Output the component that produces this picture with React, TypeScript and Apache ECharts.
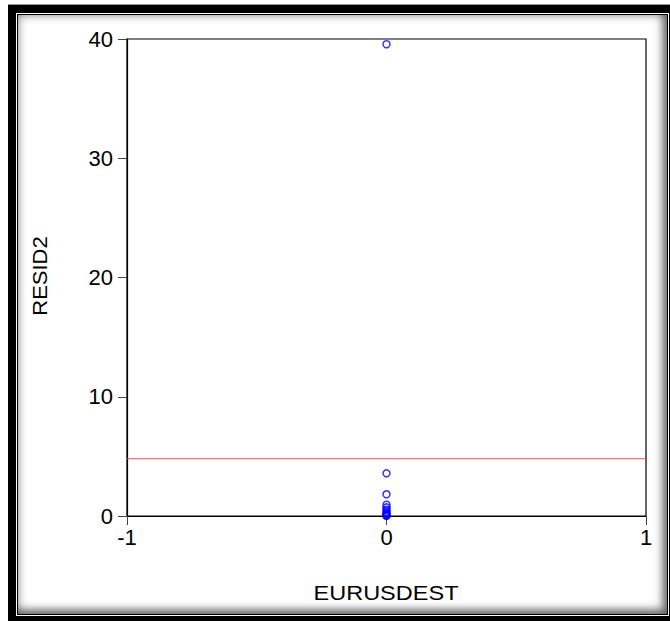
import React, { useEffect, useRef } from "react";
import * as echarts from "echarts";

const xTicks = [-1, 0, 1];
const yTicks = [0, 10, 20, 30, 40];
const pointX = [0, 0, 0, 0, 0, 0, 0, 0, 0, 0, 0, 0];
const pointY = [39.56, 3.58, 1.82, 0.95, 0.72, 0.52, 0.36, 0.25, 0.15, 0.08, 0.04, 0.02];
const refLineX = [-1, 1];
const refLineY = [4.8, 4.8];
const xName = "EURUSDEST";
const yName = "RESID2";

const FONT = "'Liberation Sans', Arial, sans-serif";

export default function App() {
  const ref = useRef<HTMLDivElement>(null);

  useEffect(() => {
    if (!ref.current) return;
    const chart = echarts.init(ref.current, undefined, { renderer: "svg" });
    const scatterData = pointX.map((x, i) => [x, pointY[i]]);
    const lineData = refLineX.map((x, i) => [x, refLineY[i]]);
    chart.setOption({
      animation: false,
      backgroundColor: "transparent",
      grid: {
        left: 127,
        top: 39,
        right: 24,
        bottom: 105,
        show: true,
        borderColor: "#000",
        borderWidth: 1.2,
        backgroundColor: "transparent",
      },
      xAxis: {
        type: "value",
        min: xTicks[0],
        max: xTicks[xTicks.length - 1],
        interval: 1,
        splitLine: { show: false },
        axisLine: { show: true, onZero: false, lineStyle: { color: "#000", width: 1.2 } },
        axisTick: { show: true, inside: false, length: 9, lineStyle: { color: "#444", width: 1 } },
        axisLabel: { color: "#000", fontSize: 22, fontFamily: FONT, margin: 10 },
      },
      yAxis: {
        type: "value",
        min: yTicks[0],
        max: yTicks[yTicks.length - 1],
        interval: 10,
        splitLine: { show: false },
        axisLine: { show: true, onZero: false, lineStyle: { color: "#000", width: 1.2 } },
        axisTick: { show: true, inside: false, length: 9, lineStyle: { color: "#444", width: 1 } },
        axisLabel: { color: "#000", fontSize: 22, fontFamily: FONT, margin: 14 },
      },
      graphic: [
        {
          type: "text",
          x: 40,
          y: 276,
          rotation: Math.PI / 2,
          scaleX: 1.1,
          style: {
            text: yName,
            fontSize: 20,
            fontFamily: FONT,
            fill: "#000",
            align: "center",
            verticalAlign: "middle",
          },
        },
        {
          type: "text",
          x: 386,
          y: 593,
          scaleX: 1.12,
          style: {
            text: xName,
            fontSize: 21,
            fontFamily: FONT,
            fill: "#000",
            align: "center",
            verticalAlign: "middle",
          },
        },
      ],
      series: [
        {
          type: "line",
          data: lineData,
          symbol: "none",
          lineStyle: { color: "#f05050", width: 1 },
          z: 2,
        },
        {
          type: "scatter",
          data: scatterData,
          symbol: "circle",
          symbolSize: 7,
          itemStyle: { color: "rgba(0,0,0,0)", borderColor: "#0000ff", borderWidth: 1.5 },
          z: 3,
        },
      ],
    });
    return () => chart.dispose();
  }, []);

  return (
    <div style={{ position: "fixed", left: 0, top: 0, width: 670, height: 621, overflow: "hidden", background: "#fff" }}>
      <div style={{ position: "absolute", left: 8, top: 4, width: 700, height: 1, background: "#999" }} />
      <div style={{ position: "absolute", left: 8, top: 5, width: 700, height: 700, background: "#000" }} />
      <div style={{ position: "absolute", left: 16, top: 13, width: 653, height: 603, background: "#fff" }} />
      <div style={{ position: "absolute", left: 17, top: 14, width: 651, height: 601, background: "#000" }} />
      <div
        style={{
          position: "absolute",
          left: 18,
          top: 15,
          width: 649,
          height: 599,
          background: "#fff",
          boxShadow: "inset 0 0 10px rgba(0,0,0,0.45), inset -5px -5px 8px rgba(0,0,0,0.45)",
        }}
      />
      <div ref={ref} style={{ position: "absolute", left: 0, top: 0, width: 670, height: 621 }} />
    </div>
  );
}
